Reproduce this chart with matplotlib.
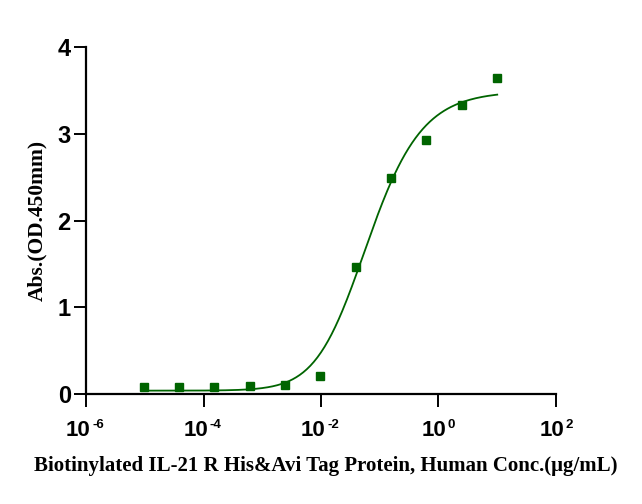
import matplotlib
matplotlib.use("Agg")
import matplotlib.pyplot as plt
import numpy as np

# 4-fold dilution series, ug/mL
conc = [9.54e-6, 3.81e-5, 1.53e-4, 6.10e-4, 2.44e-3, 9.77e-3, 0.0391, 0.156, 0.625, 2.5, 10.0]
absorb = [0.084, 0.077, 0.081, 0.092, 0.107, 0.204, 1.46, 2.49, 2.93, 3.33, 3.64]

# curve fit parameters (5PL)
bottom = 0.04
top = 3.49
ec = 0.031
hill = 0.85
asym = 1.6

tick_pos = [1e-6, 1e-4, 1e-2, 1e0, 1e2]
tick_exp = ['-6', '-4', '-2', '0', '2']

green = "#006400"

fig = plt.figure(figsize=(6.42, 5.04), dpi=100)
ax = fig.add_axes([0.134, 0.218, 0.732, 0.689])

xs = np.logspace(np.log10(conc[0]), np.log10(conc[-1]), 300)
ys = bottom + (top - bottom) / (1 + (ec / xs) ** hill) ** asym
ax.plot(xs, ys, color=green, lw=1.3)
ax.plot(conc, absorb, 's', color=green, ms=5.5, mec=green)

ax.set_xscale('log')
ax.set_xlim(1e-6, 1e2)
ax.set_ylim(0, 4)
ax.set_xticks(tick_pos)
ax.set_xticklabels([''] * len(tick_pos))
ax.minorticks_off()
ax.set_yticks([0, 1, 2, 3, 4])

for s in ['top', 'right']:
    ax.spines[s].set_visible(False)
for s in ['left', 'bottom']:
    ax.spines[s].set_linewidth(1.6)

ax.tick_params(axis='both', direction='out', length=9, width=1.4)
ax.tick_params(axis='y', labelsize=17, pad=2)
for lab in ax.get_yticklabels():
    lab.set_fontfamily('Liberation Sans')
    lab.set_fontweight('bold')

# x tick labels as "10" plus a small raised exponent
px = 0.72  # points per pixel
for xv, e in zip(tick_pos, tick_exp):
    ew = 6.5 * len(e)
    total = 25 + 2 + ew
    left = -total / 2
    ax.annotate('10', xy=(xv, 0), xycoords=('data', 'axes fraction'),
                xytext=(left * px, -26 * px), textcoords='offset points',
                ha='left', va='top', fontsize=16, fontweight='bold',
                fontfamily='Liberation Sans')
    ax.annotate(e, xy=(xv, 0), xycoords=('data', 'axes fraction'),
                xytext=((left + 26) * px, -25 * px), textcoords='offset points',
                ha='left', va='top', fontsize=9.5, fontweight='bold',
                fontfamily='Liberation Sans')

fig.text(37 / 642, 1 - 220 / 504, 'Abs.(OD.450mm)', rotation=90, ha='center', va='center',
         fontfamily='Liberation Serif', fontweight='bold', fontsize=15.5)
fig.text(326 / 642, 1 - 471 / 504, 'Biotinylated IL-21 R His&Avi Tag Protein, Human Conc.(μg/mL)',
         ha='center', va='baseline', fontfamily='Liberation Serif', fontweight='bold', fontsize=15)

fig.savefig('out.png', dpi=100)
